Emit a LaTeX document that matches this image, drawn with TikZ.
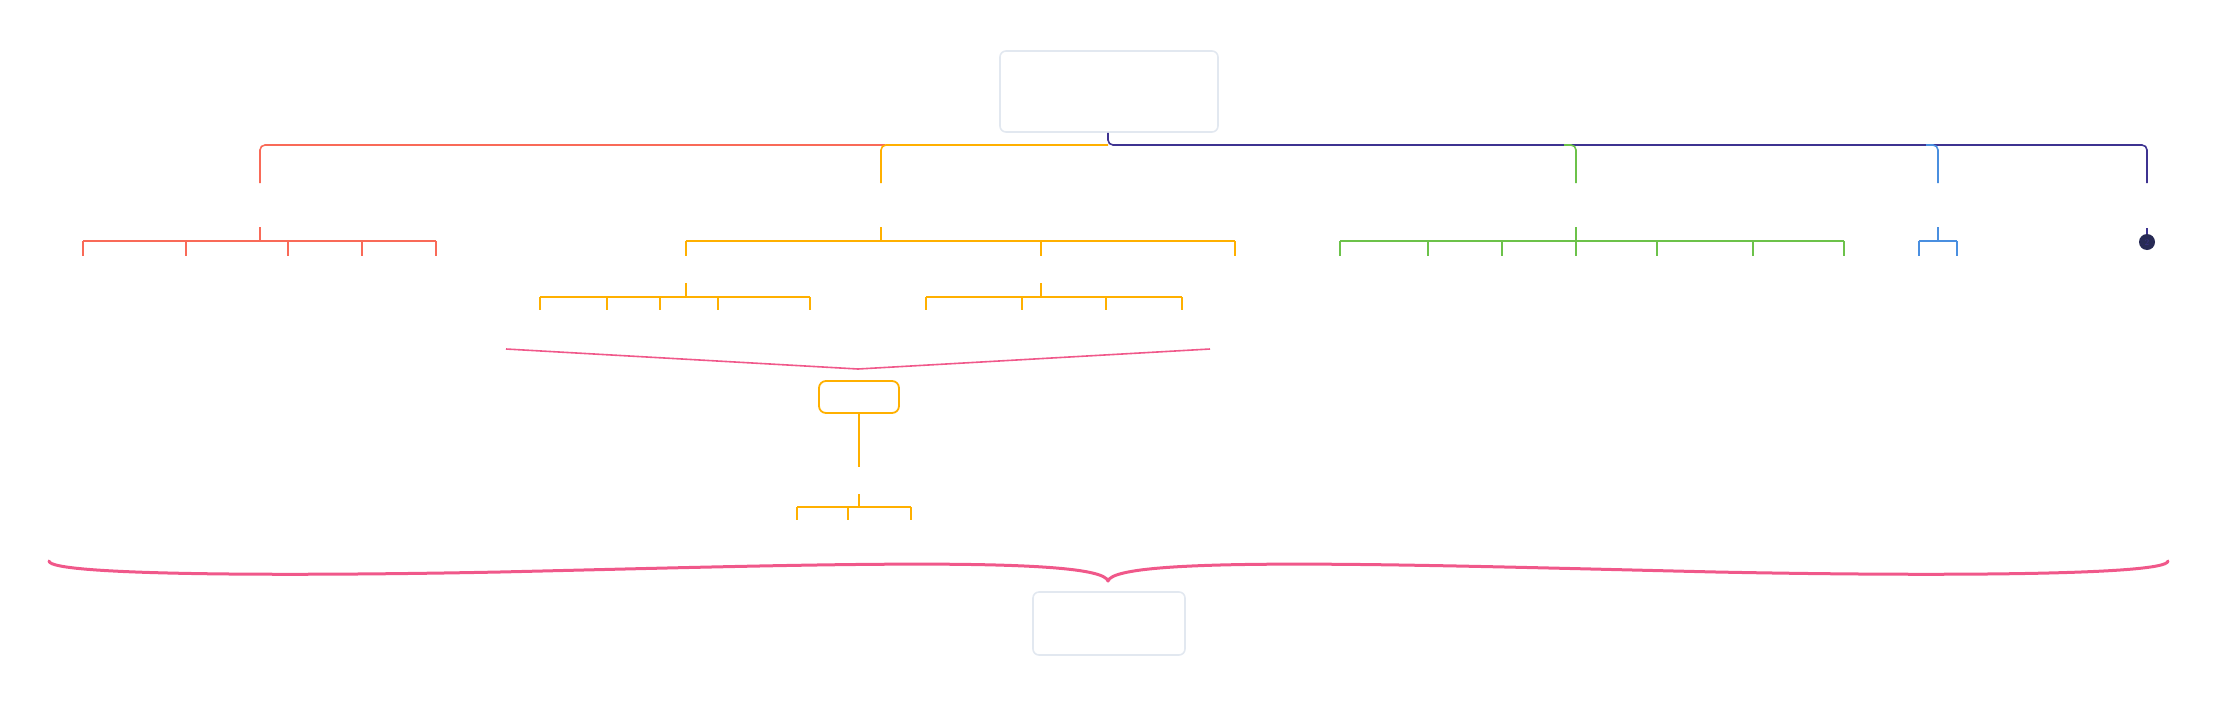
\documentclass[tikz,border=0pt]{standalone}
\usepackage{tikz}
\definecolor{cred}{HTML}{F96A58}
\definecolor{cyel}{HTML}{FFB000}
\definecolor{cgrn}{HTML}{6CC24A}
\definecolor{cblu}{HTML}{4A8FE0}
\definecolor{cpur}{HTML}{3E3391}
\definecolor{cpink}{HTML}{F0588A}
\definecolor{cnavy}{HTML}{272A55}
\definecolor{cgray}{HTML}{E2E8F0}
\begin{document}
\begin{tikzpicture}[x=1pt,y=-1pt,
  conn/.style={line width=1.6pt, rounded corners=5pt},
  tick/.style={line width=1.6pt},
  graybox/.style={draw=cgray, line width=1.6pt, rounded corners=6pt, fill=white},
  yelbox/.style={draw=cyel, line width=1.8pt, rounded corners=7pt, fill=white}]
\useasboundingbox (0,0) rectangle (2217,705);
% boxes
\node[graybox, minimum width=218pt, minimum height=81pt, inner sep=0pt] (root) at (1109,91.5) {};
\node[graybox, minimum width=152pt, minimum height=63pt, inner sep=0pt] (bottom) at (1109,623.5) {};
\node[yelbox, minimum width=80pt, minimum height=32pt, inner sep=0pt] (ybox) at (859,397) {};
% coordinates
\coordinate (hub) at (1108,145);
\coordinate (rA) at (260,183);
\coordinate (yA) at (881,183);
\coordinate (gA) at (1576,183);
\coordinate (bA) at (1938,183);
\coordinate (pA) at (2147,183);
% top-level connectors
\draw[conn, cpur] (root.south -| hub) -- (hub) -- (pA |- hub) -- (pA);
\draw[conn, cred] (rA) -- (rA |- hub) -- (885,145);
\draw[conn, cyel] (yA) -- (yA |- hub) -- (hub);
\draw[conn, cgrn] (1564,145) -- (gA |- hub) -- (gA);
\draw[conn, cblu] (1926,145) -- (bA |- hub) -- (bA);
% second level brackets
\draw[tick, cred] (260,227) -- (260,241);
\draw[tick, cred] (83,241) -- (436,241);
\foreach \t in {83,186,288,362,436} \draw[tick, cred] (\t,241) -- (\t,256);
\draw[tick, cyel] (881,227) -- (881,241);
\draw[tick, cyel] (686,241) -- (1235,241);
\foreach \t in {686,1041,1235} \draw[tick, cyel] (\t,241) -- (\t,256);
\draw[tick, cgrn] (1576,227) -- (1576,241);
\draw[tick, cgrn] (1340,241) -- (1844,241);
\foreach \t in {1340,1428,1502,1576,1657,1753,1844} \draw[tick, cgrn] (\t,241) -- (\t,256);
\draw[tick, cblu] (1938,227) -- (1938,241);
\draw[tick, cblu] (1919,241) -- (1957,241);
\foreach \t in {1919,1957} \draw[tick, cblu] (\t,241) -- (\t,256);
\node[circle, fill=cnavy, minimum size=16pt, inner sep=0pt, font=\fontsize{9}{9}\selectfont, text=cpur!80!cnavy] (badge) at (2147,242) {2};
\draw[tick, cpur] (2147,228) -- (badge.north);
% third level yellow
\draw[tick, cyel] (686,283) -- (686,297);
\draw[tick, cyel] (540,297) -- (810,297);
\foreach \t in {540,607,660,718,810} \draw[tick, cyel] (\t,297) -- (\t,310);
\draw[tick, cyel] (1041,283) -- (1041,297);
\draw[tick, cyel] (926,297) -- (1182,297);
\foreach \t in {926,1022,1106,1182} \draw[tick, cyel] (\t,297) -- (\t,310);
% pink chevron
\draw[cpink, line width=1.6pt] (506,349) -- (858,369) -- (1210,349);
% yellow box stem and lower bracket
\draw[tick, cyel] (ybox.south) -- (859,467);
\draw[tick, cyel] (859,494) -- (859,507);
\draw[tick, cyel] (797,507) -- (911,507);
\foreach \t in {797,848,911} \draw[tick, cyel] (\t,507) -- (\t,520);
% brace
\coordinate (braceL) at (49,561);
\coordinate (braceR) at (2168,561);
\coordinate (braceTip) at (1108,581);
\draw[cpink, line width=3pt, line cap=round, line join=round]
  (braceL) .. controls (49,576) and (300,576) .. (500,572)
  .. controls (800,565) and (1100,555) .. (braceTip)
  .. controls (1116,555) and (1416,565) .. (1716,572)
  .. controls (1916,576) and (2168,576) .. (braceR);
\end{tikzpicture}
\end{document}
